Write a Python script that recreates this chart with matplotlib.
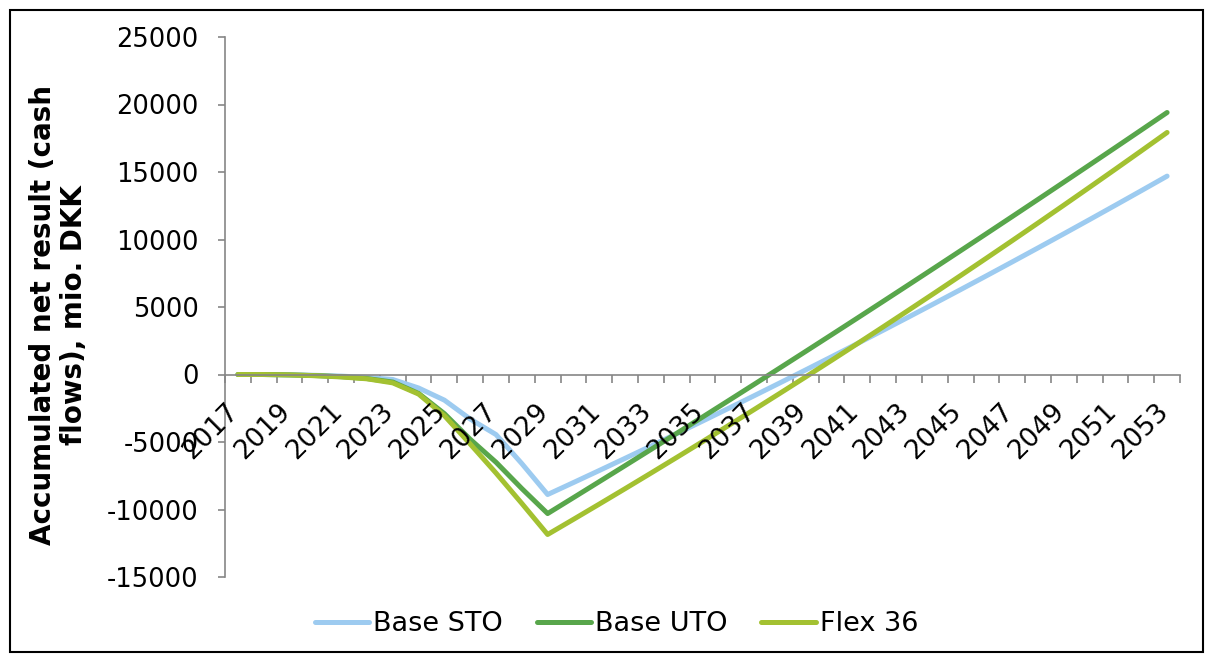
import matplotlib
matplotlib.use("Agg")
import matplotlib.pyplot as plt
from matplotlib.patches import Rectangle
from matplotlib.transforms import ScaledTranslation

years = list(range(2017, 2054))

base_sto = [0, 0, -20, -60, -120, -220, -370, -1000, -1900, -3300, -4450, -6600,
            -8890, -8005, -7112, -6210, -5300, -4381, -3453, -2517, -1573, -620,
            342, 1312, 2290, 3277, 4273, 5277, 6289, 7310, 8340, 9378, 10424,
            11479, 12543, 13615, 14695]
base_uto = [0, 0, -30, -80, -160, -300, -560, -1400, -2900, -4800, -6500, -8450,
            -10300, -9122, -7939, -6751, -5557, -4358, -3154, -1945, -731, 489,
            1714, 2944, 4179, 5419, 6665, 7916, 9172, 10433, 11699, 12971, 14248,
            15530, 16817, 18109, 19407]
flex_36 = [0, 0, -30, -90, -180, -320, -620, -1450, -3050, -5150, -7300, -9550,
           -11850, -10730, -9600, -8459, -7307, -6145, -4973, -3790, -2596, -1392,
           -178, 1047, 2283, 3529, 4785, 6052, 7330, 8618, 9916, 11225, 12545,
           13875, 15215, 16566, 17928]

series_names = ["Base STO", "Base UTO", "Flex 36"]
series_values = [base_sto, base_uto, flex_36]
series_colors = ["#9DCBF0", "#58A64B", "#A3C131"]

y_ticks = list(range(-15000, 25001, 5000))

plt.rcParams['font.family'] = ['DejaVu Sans']
W, H = 1209, 657
fig = plt.figure(figsize=(W / 100, H / 100), dpi=100)
ax = fig.add_axes([225 / W, 1 - 577 / H, (1180 - 225) / W, (577 - 37) / H])

x = list(range(len(years)))
for name, vals, col in zip(series_names, series_values, series_colors):
    ax.plot(x, vals, color=col, lw=3.6, solid_capstyle='round',
            solid_joinstyle='round', label=name)

ax.set_xlim(-0.5, len(years) - 0.5)
ax.set_ylim(-15000, 25000)
ax.set_yticks(y_ticks)
ax.set_yticklabels([str(v) for v in y_ticks], fontsize=18.5)

axis_gray = "#868686"
for s in ["top", "right"]:
    ax.spines[s].set_visible(False)
ax.spines["left"].set_color(axis_gray)
ax.spines["left"].set_linewidth(1.2)
ax.spines["bottom"].set_position(("data", 0))
ax.spines["bottom"].set_color(axis_gray)
ax.spines["bottom"].set_linewidth(1.2)
ax.tick_params(axis="y", direction="out", length=5, width=1.2, color=axis_gray, pad=14)

# category boundary tick marks on x axis
ax.set_xticks([i - 0.5 for i in range(len(years) + 1)])
ax.set_xticklabels([])
ax.tick_params(axis="x", direction="out", length=6, width=1.2, color=axis_gray)

off = ScaledTranslation(-3 / 100, -33 / 100, fig.dpi_scale_trans)
for i, yr in enumerate(years):
    if i % 2 == 0:
        ax.text(i, 0, str(yr), transform=ax.transData + off, rotation=45,
                rotation_mode="anchor", ha="right", va="center", fontsize=19,
                color="black")

ax.set_ylabel("Accumulated net result (cash\nflows), mio. DKK", fontsize=20,
              fontweight="bold", linespacing=1.15)
ax.yaxis.set_label_coords(-0.143, 0.485)

leg = fig.legend(loc="center", bbox_to_anchor=(616.5 / W, 1 - 624 / H), ncol=3,
                 frameon=False, fontsize=19.5, handlelength=2.0, handletextpad=0.15,
                 columnspacing=1.25)

fig.patches.append(Rectangle((9.5 / W, 1 - 652 / H), (1203 - 9.5) / W, (652 - 10) / H,
                             transform=fig.transFigure, fill=False,
                             edgecolor="black", lw=1.5))

fig.savefig("out.png", dpi=100)
